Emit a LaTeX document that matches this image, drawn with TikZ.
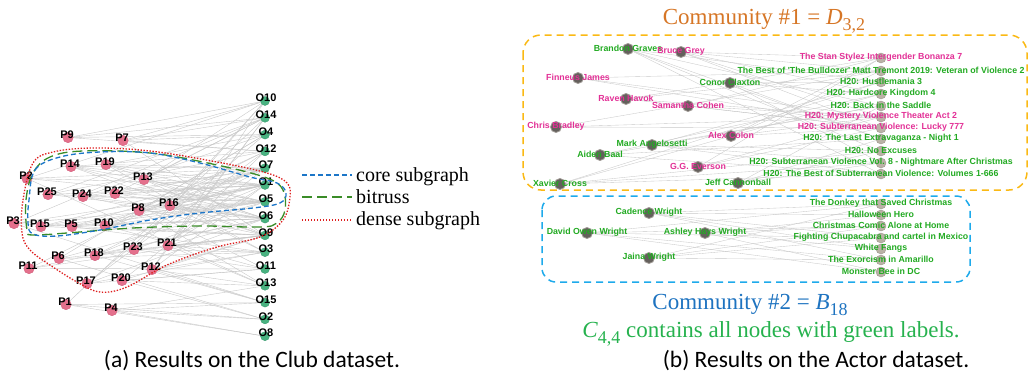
\documentclass[tikz,border=0pt]{standalone}
\usepackage{fontspec}
\setmainfont{Liberation Serif}
\newfontfamily\labfont{Liberation Sans}
\newfontfamily\capfont{Carlito}
\usetikzlibrary{backgrounds}

% italic symbol with an upright subscript, sized for the titles
\newcommand{\symsub}[2]{\textit{#1}\raisebox{-0.3em}{\fontsize{18}{18}\selectfont #2}}

\definecolor{edgec}{RGB}{200,200,200}
\definecolor{pinkfill}{RGB}{228,112,140}
\definecolor{pinkline}{RGB}{205,85,115}
\definecolor{ofill}{RGB}{72,178,128}
\definecolor{oline}{RGB}{50,150,105}
\definecolor{coreblue}{RGB}{28,118,200}
\definecolor{trussgreen}{RGB}{58,140,40}
\definecolor{densered}{RGB}{222,30,30}
\definecolor{comm1}{RGB}{214,118,38}
\definecolor{box1}{RGB}{250,185,20}
\definecolor{box2}{RGB}{30,170,235}
\definecolor{comm2}{RGB}{30,115,192}
\definecolor{c44}{RGB}{38,178,78}
\definecolor{labgreen}{RGB}{34,170,34}
\definecolor{labpink}{RGB}{226,48,150}
\definecolor{actfill}{RGB}{100,96,92}
\definecolor{actline}{RGB}{160,155,150}
\definecolor{movfill}{RGB}{186,178,166}

\tikzset{
  edge/.style={draw=edgec, line width=0.4pt},
  pdot/.style={circle, fill=pinkfill, draw=pinkline, line width=0.3pt, inner sep=0pt, minimum size=10.5pt},
  odot/.style={circle, fill=ofill, draw=oline, line width=0.3pt, inner sep=0pt, minimum size=9pt},
  clublab/.style={font=\labfont\bfseries\fontsize{11}{12}\selectfont, inner sep=0pt, text=black},
  actdot/.style={circle, fill=actfill, draw=actline, line width=0.8pt, inner sep=0pt, minimum size=11pt},
  movdot/.style={circle, fill=movfill, draw=movfill!85!black, line width=0.4pt, inner sep=0pt, minimum size=10pt},
  actlab/.style={font=\labfont\bfseries\fontsize{8.8}{10}\selectfont, inner sep=0pt},
  coreline/.style={draw=coreblue, line width=1.3pt, dash pattern=on 5pt off 3pt},
  trussline/.style={draw=trussgreen, line width=1.3pt, dash pattern=on 10pt off 5pt},
  denseline/.style={draw=densered, line width=1.3pt, dash pattern=on 1.4pt off 1.6pt},
  legtext/.style={font=\fontsize{20}{22}\selectfont, inner sep=0pt, anchor=base west},
  captext/.style={font=\capfont\fontsize{23.5}{26}\selectfont, inner sep=0pt, anchor=base},
  commtext/.style={font=\fontsize{23}{26}\selectfont, inner sep=0pt, anchor=base}
}

\begin{document}
\begin{tikzpicture}[x=1pt, y=-1pt]
\useasboundingbox (0,0) rectangle (1031,378);

% ---------------- (a) Club graph ----------------
% people (left side)
\foreach \n/\x/\y in {P9/67/135, P7/122/138, P14/70/164, P19/105/162, P2/26/176,
    P13/143/177, P25/47/192, P24/82/194, P22/114/191, P16/169/203, P8/138/208,
    P3/13/221, P15/40/224, P5/71/224, P10/104/223, P21/167/243, P23/133/247,
    P18/94/253, P6/58/256, P11/28/266, P12/151/267, P17/86/281, P20/121/278,
    P1/65/302, P4/111/308}
  \node[pdot] (\n) at (\x+1,\y+2.5) {};

% organisations (right column)
\foreach \n [count=\i from 0] in {O10,O14,O4,O12,O7,O1,O5,O6,O9,O3,O11,O13,O15,O2,O8}
  \node[odot] (\n) at (265,101+16.8*\i) {};

% memberships
\begin{scope}[on background layer]
\foreach \p/\os in {P9/{O10,O14,O12,O4}, P7/{O14,O4,O10,O9,O12}, P2/{O1,O5,O7,O13,O10},
    P14/{O1,O5,O6,O7,O12,O9}, P19/{O1,O5,O6,O7,O4,O3}, P13/{O1,O5,O6,O7,O10,O9,O14},
    P25/{O1,O5,O6,O12,O14}, P24/{O1,O5,O6,O7,O9,O4}, P22/{O1,O5,O6,O7,O14,O11},
    P16/{O1,O5,O6,O7,O9,O3,O10}, P8/{O1,O5,O6,O7,O13,O4}, P3/{O1,O5,O9,O15,O14},
    P15/{O1,O5,O6,O7,O9}, P5/{O1,O5,O6,O7,O3}, P10/{O1,O5,O6,O7,O9,O11,O12},
    P21/{O1,O6,O9,O3,O13,O12,O14}, P23/{O5,O9,O3,O11,O10}, P18/{O1,O9,O6,O15,O7},
    P6/{O5,O9,O3,O2,O4}, P11/{O9,O11,O6,O12}, P12/{O1,O9,O3,O13,O15,O10,O14},
    P17/{O6,O3,O11,O4,O12}, P20/{O9,O11,O13,O2,O7}, P1/{O15,O2,O8,O14}, P4/{O13,O2,O8,O15}}
  \foreach \o in \os
    \draw[edge] (\p) -- (\o);
\end{scope}

% labels
\foreach \n in {P9,P7,P14,P19,P2,P13,P25,P24,P22,P16,P8,P3,P15,P5,P10,P21,P23,
    P18,P6,P11,P12,P17,P20,P1,P4}
  \node[clublab] (\n-lab) at ([xshift=-1pt,yshift=2.5pt]\n) {\n};
\foreach \n in {O10,O14,O4,O12,O7,O1,O5,O6,O9,O3,O11,O13,O15,O2,O8}
  \node[clublab] (\n-lab) at ([xshift=1pt,yshift=3pt]\n) {\n};

% subgraph outlines
\draw[denseline] plot[smooth cycle, tension=0.6] coordinates {
  (22,233) (23,200) (33,163) (53,152) (93,148) (150,151) (217,162) (267,173)
  (287,183) (290,197) (283,220) (260,237) (217,247) (167,265) (127,287)
  (100,292) (77,282) (50,265) (30,250)};
\draw[trussline] plot[smooth cycle, tension=0.6] coordinates {
  (27,230) (26,200) (33,173) (50,157) (83,151) (150,153) (217,165) (267,178)
  (283,190) (285,210) (277,223) (260,227) (200,226) (133,228) (67,233) (33,235)};
\draw[coreline] plot[smooth cycle, tension=0.6] coordinates {
  (29,200) (35,170) (60,157) (100,152) (150,153) (200,163) (250,177) (277,183)
  (286,193) (280,203) (253,208) (200,213) (150,220) (100,230) (57,236) (33,234)
  (28,223)};

% legend
\coordinate (lc1) at (302,175); \coordinate (lc2) at (352,175);
\coordinate (lt1) at (302,197); \coordinate (lt2) at (352,197);
\coordinate (ld1) at (302,220); \coordinate (ld2) at (352,220);
\draw[coreline] (lc1) -- (lc2);
\draw[trussline] (lt1) -- (lt2);
\draw[denseline] (ld1) -- (ld2);
\node[legtext] (leg-core) at (356,181) {core subgraph};
\node[legtext] (leg-truss) at (356,203) {bitruss};
\node[legtext] (leg-dense) at (356,225) {dense subgraph};

\node[captext] (cap-a) at (252,367) {(a) Results on the Club dataset.};

% ---------------- (b) Actor graph ----------------
% community boxes
\draw[box1, line width=1.5pt, dash pattern=on 7pt off 5pt, rounded corners=18pt]
  (523,35) rectangle (1027,190);
\draw[box2, line width=1.5pt, dash pattern=on 7pt off 5pt, rounded corners=14pt]
  (542,196) rectangle (970,282);

% actors
\foreach \n/\x/\y in {bg/628/49, br/681/52, fj/578/78, cc/730/83, rh/626/99,
    sc/688/106, cb/556/127, ac/731/136, ma/652/145, ab/600/155, ge/698/167,
    xc/560/184, jc/738/183, cw/649/213, dw/587/233, aw/705/233, jw/649/258}
  \node[actdot] (\n) at (\x,\y) {};

% films
\foreach \n/\y in {m1/57, m2/70, m3/81, m4/93, m5/105, m6/116, m7/127, m8/138,
    m9/150, m10/162, m11/173, d1/203, d2/214, d3/225, d4/237, d5/248, d6/259, d7/271}
  \node[movdot] (\n) at (881,\y+1) {};

% appearances
\begin{scope}[on background layer]
\foreach \a/\ms in {bg/{m3,m5,m8,m9,m11}, br/{m1,m2,m4,m6,m7}, fj/{m2,m6,m7},
    cc/{m3,m4,m8,m10}, rh/{m1,m6,m7,m2}, sc/{m1,m6,m7}, cb/{m2,m6,m7},
    ac/{m1,m2,m7,m6}, ma/{m3,m5,m9,m10,m11}, ab/{m4,m5,m8,m11}, ge/{m6,m7,m1},
    xc/{m3,m4,m9,m10,m11}, jc/{m5,m8,m9,m10},
    cw/{d1,d2,d4,d5,d6}, dw/{d1,d3,d4,d6,d7}, aw/{d2,d3,d5,d7}, jw/{d1,d3,d4,d6}}
  \foreach \m in \ms
    \draw[edge, line width=0.35pt] (\a) -- (\m);
\end{scope}

% actor and film names
\foreach \n/\col/\t in {bg/labgreen/{Brandon Graves}, br/labpink/{Bruce Grey},
    fj/labpink/{Finneus James}, cc/labgreen/{Conor Claxton}, rh/labpink/{Raven Havok},
    sc/labpink/{Samantha Cohen}, cb/labpink/{Chris Bradley}, ac/labpink/{Alex Colon},
    ma/labgreen/{Mark Angelosetti}, ab/labgreen/{Aiden Baal}, ge/labpink/{G.G. Everson},
    xc/labgreen/{Xavier Cross}, jc/labgreen/{Jeff Cannonball},
    cw/labgreen/{Cadence Wright}, dw/labgreen/{David Owen Wright},
    aw/labgreen/{Ashley Hays Wright}, jw/labgreen/{Jaina Wright},
    m1/labpink/{The Stan Stylez Intergender Bonanza 7},
    m2/labgreen/{The Best of 'The Bulldozer' Matt Tremont 2019: Veteran of Violence 2},
    m3/labgreen/{H20: Hustlemania 3},
    m4/labgreen/{H20: Hardcore Kingdom 4},
    m5/labgreen/{H20: Back in the Saddle},
    m6/labpink/{H20: Mystery Violence Theater Act 2},
    m7/labpink/{H20: Subterranean Violence: Lucky 777},
    m8/labgreen/{H20: The Last Extravaganza - Night 1},
    m9/labgreen/{H20: No Excuses},
    m10/labgreen/{H20: Subterranean Violence Vol. 8 - Nightmare After Christmas},
    m11/labgreen/{H20: The Best of Subterranean Violence: Volumes 1-666},
    d1/labgreen/{The Donkey that Saved Christmas},
    d2/labgreen/{Halloween Hero},
    d3/labgreen/{Christmas Comic Alone at Home},
    d4/labgreen/{Fighting Chupacabra and cartel in Mexico},
    d5/labgreen/{White Fangs},
    d6/labgreen/{The Exorcism in Amarillo},
    d7/labgreen/{Monster Bee in DC}}
  \node[actlab, text=\col] (\n-lab) at ([yshift=0.5pt]\n) {\t};

% titles
\node[commtext, text=comm1] (comm-1) at (764,24) {Community \#1 = \symsub{D}{3,2}};
\node[commtext, text=comm2] (comm-2) at (750,309) {Community \#2 = \symsub{B}{18}};
\node[commtext, text=c44] (core-44) at (771,337) {\symsub{C}{4,4} contains all nodes with green labels.};
\node[captext] (cap-b) at (816,367) {(b) Results on the Actor dataset.};
\end{tikzpicture}
\end{document}
